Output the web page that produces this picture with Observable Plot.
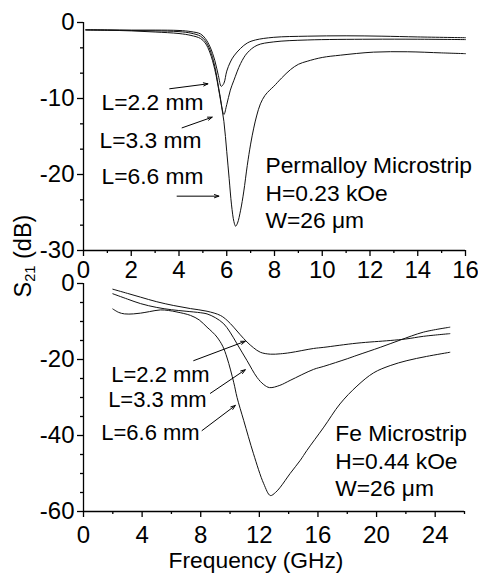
<!DOCTYPE html>
<html>
<head>
<meta charset="utf-8">
<script src="https://cdn.jsdelivr.net/npm/d3@7"></script>
<script src="https://cdn.jsdelivr.net/npm/@observablehq/plot@0.6"></script>
<style>
  body { margin: 0; background: #fff; }
  #wrap { position: relative; width: 478px; height: 579px; background: #fff; font-family: "Liberation Sans", Arial, sans-serif; color: #000; }
  .panel { position: absolute; left: 0; }
  #ylab { position: absolute; left: 25px; top: 256px; transform: translate(-50%, -50%) rotate(-90deg); font-size: 23.5px; white-space: nowrap; line-height: 1; }
  #ylab sub { font-size: 0.62em; vertical-align: -0.25em; }
  #xlab { position: absolute; left: 256px; top: 560px; transform: translate(-50%, -50%); font-size: 22.8px; white-space: nowrap; line-height: 1; }
</style>
</head>
<body>
<div id="wrap">
  <div id="bot" class="panel" style="top:271px"></div>
  <div id="top" class="panel" style="top:0px"></div>
  <div id="ylab">S<sub>21</sub> (dB)</div>
  <div id="xlab">Frequency (GHz)</div>
</div>
<script>
// ---------- Permalloy microstrip (top panel), [GHz, dB] ----------
const permL22 = [[0.1,-0.97],[1,-0.98],[2,-1.0],[3,-1.0],[4,-1.05],[4.5,-1.2],[4.9,-1.5],[5.1,-2.1],[5.3,-3.2],[5.5,-5.0],[5.65,-7.0],[5.77,-8.4],[5.88,-8.0],[6.0,-6.4],[6.15,-5.2],[6.3,-4.4],[6.58,-3.4],[6.86,-2.7],[7.2,-2.3],[7.97,-1.95],[9.37,-1.8],[11,-1.75],[12.5,-1.8],[14,-1.9],[16,-2.0]];
const permL33 = [[0.1,-0.97],[1,-1.0],[2,-1.05],[3,-1.1],[4,-1.2],[4.5,-1.4],[4.9,-1.8],[5.1,-2.4],[5.3,-3.6],[5.5,-5.8],[5.7,-9.3],[5.88,-12.1],[6.0,-10.8],[6.15,-8.9],[6.3,-7.6],[6.58,-5.4],[6.86,-4.0],[7.27,-3.0],[7.97,-2.55],[9.37,-2.3],[12,-2.2],[14,-2.2],[16,-2.25]];
const permL66 = [[0.1,-0.97],[1,-1.02],[2,-1.1],[3,-1.25],[4,-1.45],[4.5,-1.7],[4.9,-2.1],[5.1,-2.7],[5.3,-4.0],[5.5,-6.2],[5.7,-9.5],[5.88,-13],[6.0,-17],[6.1,-20.5],[6.2,-24],[6.3,-26.2],[6.37,-26.8],[6.45,-26.4],[6.58,-24.7],[6.71,-22.3],[6.86,-18.8],[7.0,-16.0],[7.13,-13.9],[7.25,-12.3],[7.41,-10.7],[7.6,-9.6],[7.8,-8.9],[7.97,-8.4],[8.3,-7.3],[8.67,-6.2],[9.0,-5.5],[9.37,-5.1],[10,-4.6],[10.76,-4.3],[12.15,-3.9],[13.56,-3.85],[15,-4.0],[16,-4.1]];

// ---------- Fe microstrip (bottom panel), [GHz, dB] ----------
const feL22 = [[2,-1.5],[3,-2.6],[3.9,-3.6],[5,-4.8],[6.16,-5.8],[7.3,-6.6],[8.43,-7.3],[9.34,-8.4],[9.8,-9.7],[10.25,-11.5],[10.7,-13.5],[11.16,-15.4],[11.6,-16.9],[12.07,-18.1],[12.75,-18.6],[13.43,-18.5],[14.1,-18.2],[15.7,-17.1],[16.4,-16.8],[18.66,-15.7],[20.93,-15.0],[22,-14.6],[23.2,-13.9],[25,-13.2]];
const feL33 = [[2,-2.7],[3,-4.1],[3.9,-5.3],[5,-6.3],[6,-6.9],[7,-7.3],[8,-7.7],[8.43,-8.0],[9,-9.0],[9.57,-10.6],[10,-12.8],[10.48,-15.9],[11.16,-20.3],[11.84,-24.7],[12.3,-26.6],[12.7,-27.4],[13.4,-26.8],[14.1,-25.5],[15.7,-22.6],[16.4,-21.8],[18,-19.8],[18.66,-18.9],[20.25,-16.8],[21.6,-14.9],[23.2,-12.8],[25,-11.5]];
const feL66 = [[2,-6.7],[2.4,-7.6],[2.8,-8.0],[3.4,-8.0],[3.9,-7.8],[4.5,-7.4],[5.25,-6.95],[5.8,-7.1],[6.38,-7.5],[7.3,-8.4],[7.9,-9.6],[8.43,-11.5],[8.8,-12.8],[9.11,-14.1],[9.5,-16.5],[9.8,-19.6],[10.25,-26],[10.48,-30],[10.93,-36],[11.6,-44.8],[12.3,-52.7],[12.75,-55.8],[13.1,-55],[13.43,-53.6],[14.1,-50],[14.8,-46.5],[15.25,-43.9],[16.4,-37.8],[17.5,-31.7],[18.66,-27],[19.8,-23.5],[20.93,-21.6],[22.07,-20.3],[23.4,-19.2],[25,-18.1]];

// ---------- ticks ----------
const topXMajor = [0,2,4,6,8,10,12,14,16];
const topXMinor = [1,3,5,7,9,11,13,15];
const topYMajor = [0,-10,-20,-30];
const topYMinor = [-10/3,-20/3,-40/3,-50/3,-70/3,-80/3];
const botXMajor = [0,4,8,12,16,20,24];
const botXMinor = [2,6,10,14,18,22,26];
const botYMajor = [0,-20,-40,-60];
const botYMinor = [-5,-10,-15,-25,-30,-35,-45,-50,-55];

// ---------- annotations ----------
const topLabels = ["L=2.2 mm","L=3.3 mm","L=6.6 mm"];
const topLabelPos = [[2.89,-10.5],[2.81,-15.5],[2.89,-20.35]];
const topArrows = [[3.61,-8.72,5.21,-8.07],[4.13,-13.86,5.39,-12.46],[3.92,-22.85,5.67,-22.85]];
const topInfo = ["Permalloy Microstrip","H=0.23 kOe","W=26 \u03bcm"];
const topInfoPos = [[7.62,-18.8],[7.62,-22.5],[7.62,-26.05]];

const botLabels = ["L=2.2 mm","L=3.3 mm","L=6.6 mm"];
const botLabelPos = [[5.25,-24.0],[5.04,-30.6],[4.57,-39.2]];
const botArrows = [[7.52,-20.3,11.04,-15.2],[8.66,-28.9,11.04,-22.7],[8.09,-38.7,10.36,-32.1]];
const botInfo = ["Fe Microstrip","H=0.44 kOe","W=26 \u03bcm"];
const botInfoPos = [[17.18,-39.6],[17.18,-47.0],[17.18,-54.0]];

const FONT = "'Liberation Sans', Arial, sans-serif";
const fmt = d => String(d);

function panel({series, xDomain, yDomain, xMajor, xMinor, yMajor, yMinor, labels, labelPos, labelSize, arrows, info, infoPos, height, marginTop, marginBottom, marginRight, xPad}) {
  const lab = labels.map((t,i) => ({t, x: labelPos[i][0], y: labelPos[i][1]}));
  const inf = info.map((t,i) => ({t, x: infoPos[i][0], y: infoPos[i][1]}));
  const arr = arrows.map(a => ({x1:a[0], y1:a[1], x2:a[2], y2:a[3]}));
  return Plot.plot({
    width: 478, height, marginTop, marginBottom, marginLeft: 83, marginRight,
    style: {fontSize: "22.8px", fontFamily: FONT, color: "#000", background: "transparent", overflow: "visible"},
    x: {domain: xDomain},
    y: {domain: yDomain},
    marks: [
      ...series.map(s => Plot.line(s, {x: d => d[0], y: d => d[1], stroke: "#111", strokeWidth: 1, curve: "catmull-rom"})),
      Plot.ruleX([xDomain[0]], {stroke: "#000", strokeWidth: 1.3}),
      Plot.ruleY([yDomain[0]], {stroke: "#000", strokeWidth: 1.3}),
      Plot.axisX(xMajor, {anchor: "bottom", tickSize: 6, tickPadding: xPad, tickFormat: fmt, strokeWidth: 1.3, fontSize: 24, label: null}),
      Plot.axisX(xMinor, {anchor: "bottom", tickSize: 3, text: null, strokeWidth: 1.3, label: null}),
      Plot.axisY(yMajor, {anchor: "left", tickSize: 6, tickPadding: 3, tickFormat: fmt, strokeWidth: 1.3, fontSize: 24, label: null}),
      Plot.axisY(yMinor, {anchor: "left", tickSize: 3, text: null, strokeWidth: 1.3, label: null}),
      Plot.arrow(arr, {x1: "x1", y1: "y1", x2: "x2", y2: "y2", stroke: "#000", strokeWidth: 1, headLength: 7, headAngle: 40}),
      Plot.text(lab, {x: "x", y: "y", text: "t", textAnchor: "middle", lineAnchor: "middle", fontSize: labelSize, fill: "#000"}),
      Plot.text(inf, {x: "x", y: "y", text: "t", textAnchor: "start", lineAnchor: "middle", fontSize: 22.8, fill: "#000"})
    ]
  });
}

document.getElementById("top").appendChild(panel({
  series: [permL22, permL33, permL66], xDomain: [0,16], yDomain: [-30,0],
  xMajor: topXMajor, xMinor: topXMinor, yMajor: topYMajor, yMinor: topYMinor,
  labels: topLabels, labelPos: topLabelPos, labelSize: 22.8, arrows: topArrows, info: topInfo, infoPos: topInfoPos,
  height: 285, marginTop: 22, marginBottom: 35, marginRight: 13, xPad: 4
}));
document.getElementById("bot").appendChild(panel({
  series: [feL22, feL33, feL66], xDomain: [0,26], yDomain: [-60,0],
  xMajor: botXMajor, xMinor: botXMinor, yMajor: botYMajor, yMinor: botYMinor,
  labels: botLabels, labelPos: botLabelPos, labelSize: 22, arrows: botArrows, info: botInfo, infoPos: botInfoPos,
  height: 308, marginTop: 12, marginBottom: 68, marginRight: 14, xPad: 8
}));
</script>
</body>
</html>
